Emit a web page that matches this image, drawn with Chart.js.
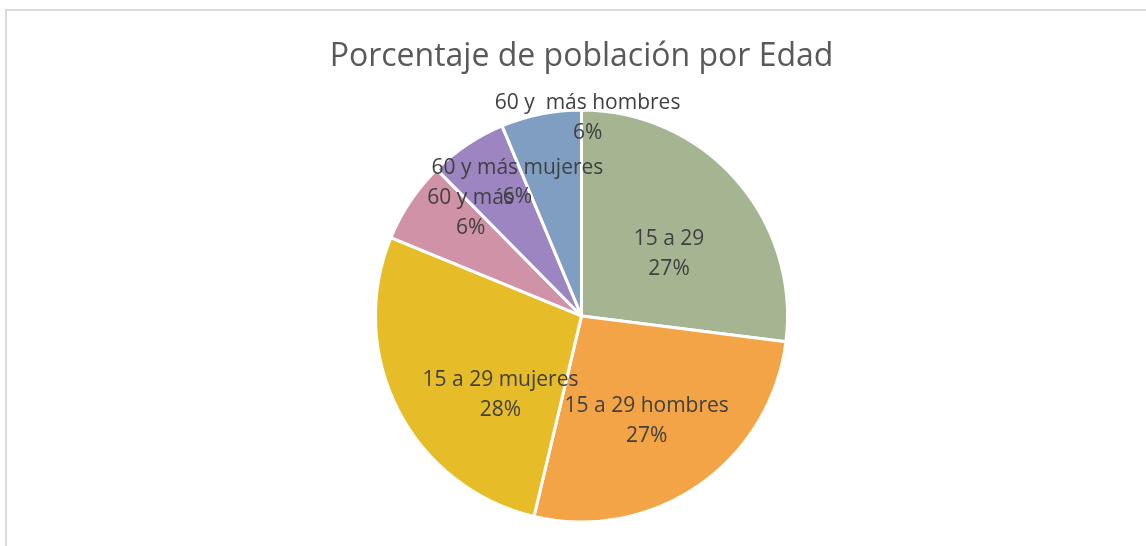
<!DOCTYPE html>
<html>
<head>
<meta charset="utf-8">
<script src="https://cdn.jsdelivr.net/npm/chart.js@4.4.1/dist/chart.umd.min.js"></script>
<style>
  body { margin: 0; background: #fff; }
  #wrap { position: relative; width: 1146px; height: 546px; overflow: hidden; }
  #frame { position: absolute; left: 5px; top: 9px; width: 1200px; height: 600px; border: 2px solid #d9d9d9; }
  #chartBox { position: absolute; left: 0; top: 0; width: 1146px; height: 546px; }
</style>
</head>
<body>
<div id="wrap">
  <div id="frame"></div>
  <div id="chartBox"><canvas id="pieEdad"></canvas></div>
</div>
<script>
// datos
const categorias = ['15 a 29', '15 a 29 hombres', '15 a 29 mujeres', '60 y más', '60 y más mujeres', '60 y  más hombres'];
const porcentajes = [27.0, 26.7, 27.5, 6.4, 6.1, 6.3];
const colores = ['#a5b592', '#f3a447', '#e7bc29', '#d092a7', '#9c85c0', '#809ec2'];
const titulo = 'Porcentaje de población por Edad';

// ajuste de etiquetas (desplazamiento en grados respecto al centro del sector, fraccion del radio)
const ajusteEtiquetas = [[6.2, 0.52], [2.9, 0.60], [-17.2, 0.55], [9.1, 0.735], [8.0, 0.718], [13.1, 0.96]];

const etiquetasPlugin = {
  id: 'etiquetas',
  afterDatasetsDraw(chart) {
    const ctx = chart.ctx;
    const meta = chart.getDatasetMeta(0);
    const total = porcentajes.reduce((a, b) => a + b, 0);
    ctx.save();
    ctx.font = '21px "Open Sans"';
    ctx.fillStyle = '#404040';
    ctx.textAlign = 'center';
    ctx.textBaseline = 'middle';
    meta.data.forEach(function(arc, i) {
      const p = arc.getProps(['x', 'y', 'startAngle', 'endAngle', 'outerRadius'], true);
      const mid = (p.startAngle + p.endAngle) / 2 + ajusteEtiquetas[i][0] * Math.PI / 180;
      const r = p.outerRadius * ajusteEtiquetas[i][1];
      const cx = p.x + Math.cos(mid) * r;
      const cy = p.y + Math.sin(mid) * r;
      const pct = Math.round(porcentajes[i] / total * 100) + '%';
      ctx.fillText(categorias[i], cx, cy - 14.75);
      ctx.fillText(pct, cx, cy + 14.75);
    });
    ctx.restore();
  }
};

var ctx = document.getElementById('pieEdad').getContext('2d');
new Chart(ctx, {
  type: 'pie',
  data: {
    labels: categorias,
    datasets: [{
      data: porcentajes,
      backgroundColor: colores,
      borderColor: '#ffffff',
      borderWidth: 3
    }]
  },
  options: {
    responsive: true,
    maintainAspectRatio: false,
    animation: false,
    devicePixelRatio: 1,
    layout: { padding: { left: 17, right: 0, top: 0, bottom: 22.5 } },
    plugins: {
      legend: { display: false },
      tooltip: { enabled: false },
      title: {
        display: true,
        text: titulo,
        color: '#595959',
        font: { family: '"Open Sans"', size: 32, weight: 'normal', lineHeight: 1.2 },
        padding: { top: 38, bottom: 32 }
      }
    }
  },
  plugins: [etiquetasPlugin]
});
</script>
</body>
</html>
